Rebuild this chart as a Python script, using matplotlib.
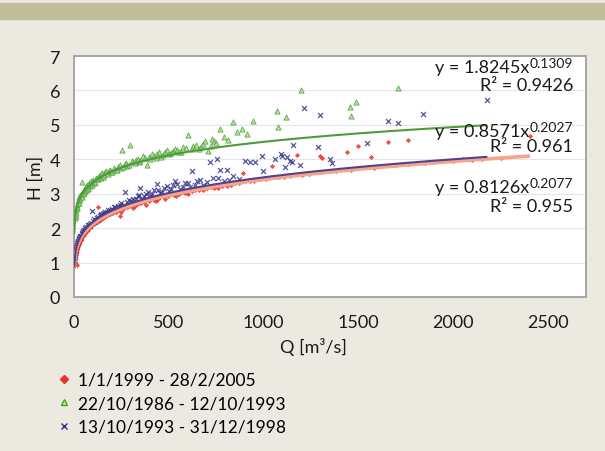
import matplotlib
matplotlib.use('Agg')
import matplotlib.pyplot as plt
from matplotlib.lines import Line2D
from matplotlib.patches import Rectangle
import numpy as np

plt.rcParams['font.family'] = ['Lato', 'DejaVu Sans']

W, H = 605, 452

# 22/10/1986 - 12/10/1993 (green triangles)
q_green = [5, 8, 10, 12, 14, 15, 18, 20, 22, 25, 27, 28, 32, 33, 35, 38, 40, 42, 45, 46, 48,
           52, 55, 58, 60, 63, 65, 70, 72, 75, 78, 80, 85, 88, 90, 95, 98, 100, 105, 110, 115,
           120, 125, 130, 135, 140, 145, 150, 155, 160, 165, 170, 180, 185, 190, 195, 200,
           210, 215, 225, 232, 240, 248, 253, 260, 268, 275, 282, 290, 295, 305, 312, 320,
           328, 335, 342, 350, 365, 372, 385, 395, 402, 410, 420, 430, 440, 450, 460, 470,
           480, 490, 500, 510, 520, 530, 545, 555, 565, 575, 590, 601, 620, 630, 645, 660,
           670, 680, 690, 707, 720, 730, 740, 750, 770, 790, 810, 839, 860, 886, 910, 944,
           1071, 1076, 1118, 1197, 1456, 1462, 1487, 1709]
h_green = [2.30, 2.35, 2.45, 2.52, 2.58, 2.68, 2.62, 2.74, 2.80, 2.72, 2.82, 2.90, 2.84, 2.94,
           2.98, 2.92, 2.90, 3.34, 3.05, 3.06, 2.98, 3.10, 3.02, 3.08, 3.18, 3.20, 3.10, 3.24,
           3.14, 3.16, 3.26, 3.30, 3.22, 3.28, 3.36, 3.26, 3.34, 3.40, 3.30, 3.34, 3.46, 3.44,
           3.42, 3.52, 3.50, 3.47, 3.56, 3.60, 3.50, 3.54, 3.62, 3.66, 3.58, 3.66, 3.70, 3.62,
           3.64, 3.76, 3.70, 3.70, 3.78, 3.82, 3.74, 4.27, 3.78, 3.86, 3.90, 3.80, 3.84, 4.42,
           3.95, 3.92, 3.88, 3.98, 4.02, 3.92, 3.96, 4.10, 4.04, 3.84, 4.06, 4.00, 4.14, 4.10,
           4.05, 4.14, 4.20, 4.08, 4.12, 4.22, 4.26, 4.16, 4.18, 4.24, 4.30, 4.28, 4.22, 4.20,
           4.36, 4.32, 4.71, 4.30, 4.38, 4.42, 4.30, 4.35, 4.44, 4.52, 4.24, 4.40, 4.60, 4.52,
           4.48, 4.88, 4.66, 4.55, 5.09, 4.78, 4.88, 4.72, 5.12, 5.41, 4.94, 5.23, 6.02, 5.52,
           5.26, 5.67, 6.08]

# 13/10/1993 - 31/12/1998 (blue crosses)
q_blue = [3, 4, 5, 6, 7, 8, 10, 11, 12, 14, 15, 17, 18, 20, 22, 23, 25, 27, 28, 30, 32, 35,
          38, 40, 42, 45, 48, 50, 53, 55, 58, 60, 64, 68, 72, 75, 78, 82, 86, 90, 95, 100,
          105, 110, 115, 120, 125, 130, 135, 140, 145, 150, 155, 160, 165, 170, 175, 180,
          188, 195, 202, 210, 218, 225, 232, 240, 248, 255, 262, 269, 280, 290, 300, 310,
          320, 328, 335, 342, 348, 360, 370, 380, 390, 400, 410, 420, 437, 445, 455, 465,
          475, 490, 500, 510, 520, 533, 545, 560, 575, 585, 600, 610, 622, 640, 650, 665,
          680, 700, 717, 735, 754, 760, 770, 790, 807, 820, 840, 870, 902, 928, 955, 992,
          997, 1060, 1090, 1097, 1113, 1123, 1139, 1150, 1155, 1192, 1213, 1287, 1297, 1350,
          1361, 1545, 1656, 1709, 1841, 2178]
h_blue = [1.05, 1.15, 1.22, 1.28, 1.30, 1.34, 1.40, 1.44, 1.36, 1.46, 1.52, 1.56, 1.50, 1.60,
          1.62, 1.58, 1.68, 1.70, 1.66, 1.74, 1.76, 1.72, 1.78, 1.84, 1.86, 1.82, 1.88, 1.92,
          1.95, 1.90, 1.94, 2.00, 2.02, 1.98, 2.04, 2.10, 2.08, 2.06, 2.12, 2.16, 2.50, 2.22,
          2.26, 2.18, 2.24, 2.30, 2.32, 2.27, 2.34, 2.38, 2.40, 2.34, 2.42, 2.44, 2.46, 2.40,
          2.48, 2.52, 2.54, 2.48, 2.56, 2.60, 2.62, 2.56, 2.64, 2.68, 2.72, 2.62, 2.68, 3.05,
          2.75, 2.82, 2.80, 2.86, 2.74, 2.84, 2.92, 2.96, 3.17, 2.86, 2.92, 3.00, 3.04, 2.94,
          2.98, 3.10, 3.28, 3.12, 3.02, 3.06, 3.18, 3.22, 3.08, 3.14, 3.25, 3.37, 3.28, 3.14,
          3.20, 3.30, 3.32, 3.20, 3.66, 3.26, 3.36, 3.40, 3.26, 3.34, 3.92, 3.45, 4.01, 3.46,
          3.69, 3.38, 3.69, 3.40, 3.52, 3.44, 3.95, 3.92, 3.92, 4.10, 3.66, 4.01, 4.15, 4.10,
          3.78, 4.07, 3.95, 3.92, 4.42, 3.84, 5.49, 4.36, 5.29, 4.01, 3.90, 4.48, 5.12, 5.06,
          5.32, 5.73]

# 1/1/1999 - 28/2/2005 (red diamonds)
q_red = [3, 4, 6, 8, 10, 12, 14, 15, 16, 18, 20, 22, 24, 26, 28, 30, 33, 36, 38, 42, 45, 48,
         52, 56, 60, 65, 70, 75, 80, 85, 90, 95, 105, 110, 115, 122, 127, 130, 138, 145, 152,
         160, 168, 175, 182, 190, 200, 210, 220, 230, 240, 250, 260, 270, 280, 290, 300, 310,
         320, 330, 345, 355, 370, 380, 395, 405, 420, 430, 445, 455, 470, 480, 495, 510, 525,
         540, 555, 570, 585, 600, 620, 640, 660, 680, 700, 720, 740, 760, 780, 807, 830, 850,
         870, 891, 930, 950, 980, 1010, 1044, 1080, 1110, 1140, 1176, 1200, 1240, 1297, 1300,
         1308, 1380, 1440, 1460, 1498, 1566, 1580, 1620, 1656, 1700, 1760, 1762, 1850, 1900,
         1950, 2000, 2050, 2100, 2150, 2250, 2405]
h_red = [1.02, 1.10, 1.18, 1.22, 1.28, 1.34, 1.38, 0.93, 1.40, 1.45, 1.48, 1.52, 1.55, 1.56,
         1.60, 1.63, 1.66, 1.68, 1.70, 1.74, 1.79, 1.80, 1.82, 1.86, 1.88, 1.90, 1.95, 1.98,
         2.00, 2.02, 2.06, 2.08, 2.12, 2.14, 2.18, 2.20, 2.62, 2.22, 2.25, 2.28, 2.30, 2.32,
         2.34, 2.38, 2.40, 2.42, 2.44, 2.46, 2.48, 2.52, 2.35, 2.48, 2.56, 2.60, 2.62, 2.64,
         2.66, 2.58, 2.64, 2.70, 2.72, 2.74, 2.76, 2.68, 2.80, 2.84, 2.82, 2.80, 2.86, 2.90,
         2.92, 2.86, 2.92, 2.98, 2.96, 2.94, 3.00, 3.04, 3.02, 3.00, 3.08, 3.12, 3.10, 3.10,
         3.16, 3.20, 3.18, 3.16, 3.22, 3.23, 3.26, 3.30, 3.30, 3.60, 3.36, 3.38, 3.42, 3.42,
         3.81, 3.48, 3.48, 3.52, 4.13, 3.54, 3.58, 4.10, 3.62, 4.04, 3.66, 4.22, 3.70, 4.39,
         4.07, 3.76, 3.80, 4.51, 3.84, 3.86, 4.56, 3.90, 3.92, 3.96, 3.94, 4.00, 3.98, 4.02,
         4.04, 4.68]

# power trendlines shown on the chart: (a, b, R², last Q)
fit_green = (1.8245, 0.1309, '0.9426', 2180)
fit_blue = (0.8571, 0.2027, '0.961', 2180)
fit_red = (0.8126, 0.2077, '0.955', 2405)

labels = ['1/1/1999 - 28/2/2005', '22/10/1986 - 12/10/1993', '13/10/1993 - 31/12/1998']
x_ticks = [0, 500, 1000, 1500, 2000, 2500]
y_ticks = [0, 1, 2, 3, 4, 5, 6, 7]

BG = '#ECE9E1'
fig = plt.figure(figsize=(W / 100, H / 100), dpi=100)
fig.patch.set_facecolor(BG)
fig.patches.append(Rectangle((0, 1 - 20 / H), 1, 16 / H, transform=fig.transFigure,
                             color='#C3BE9A', zorder=0))

def fx(px):
    return px / W

def fy(py):
    return 1 - py / H

ax = fig.add_axes([fx(74), fy(298), fx(586) - fx(74), fy(57) - fy(298)])
ax.set_facecolor('white')

ax.scatter(q_green, h_green, marker='^', s=14, facecolor='#A9DC7E', edgecolor='#3E9B35',
           linewidth=0.6, alpha=0.8, zorder=3)
ax.scatter(q_blue, h_blue, marker='x', s=13, color='#2E2F86', linewidth=0.9, alpha=0.8, zorder=3)
ax.scatter(q_red, h_red, marker='D', s=7, color='#E8322A', linewidth=0, alpha=0.85, zorder=4)

for (a, b, r2, qmax), col, lw in [(fit_red, '#F4A68C', 2.6), (fit_blue, '#55408E', 1.5),
                                  (fit_green, '#4E9A3E', 1.5)]:
    qq = np.linspace(1, qmax, 400)
    ax.plot(qq, a * qq ** b, color=col, lw=lw, zorder=5, solid_capstyle='butt')

ax.set_xlim(0, 2700)
ax.set_ylim(0, 7)
ax.set_xticks(x_ticks)
ax.set_yticks(y_ticks)
ax.yaxis.grid(True, color='#E6E6E6', lw=0.8)
ax.set_axisbelow(True)
for s in ax.spines.values():
    s.set_color('#A6A6A6')
    s.set_linewidth(1.4)
ax.tick_params(length=0, labelsize=13, colors='#1A1A1A')
ax.tick_params(axis='x', pad=12)
ax.tick_params(axis='y', pad=10)

fig.text(fx(36), fy(178), 'H [m]', rotation=90, ha='center', va='center', fontsize=13,
         color='#1A1A1A')
fig.text(fx(313), fy(347), 'Q [m³/s]', ha='center', va='center', fontsize=13, color='#1A1A1A')

# trendline equations: base text + raised exponent, right aligned
renderer = fig.canvas.get_renderer()
eqs = [(fit_green, 68, 86), (fit_blue, 132, 147), (fit_red, 188, 207)]
for (a, b, r2, qmax), y1, y2 in eqs:
    sup = fig.text(fx(573), fy(y1 - 4), '%.4f' % b, ha='right', va='center', fontsize=10,
                   color='#1A1A1A')
    wsup = sup.get_window_extent(renderer).width
    fig.text(fx(573 - wsup), fy(y1), 'y = %.4fx' % a, ha='right', va='center',
             fontsize=13, color='#1A1A1A')
    fig.text(fx(573), fy(y2), 'R² = %s' % r2, ha='right', va='center', fontsize=13,
             color='#1A1A1A')

handles = [
    Line2D([], [], ls='none', marker='D', ms=4, color='#E8322A', mec='#E8322A'),
    Line2D([], [], ls='none', marker='^', ms=5, mfc='#E6E23A', mec='#3E9B35', mew=0.9),
    Line2D([], [], ls='none', marker='x', ms=5, color='#2E2F86', mew=1.0),
]
fig.legend(handles, labels, loc='upper left', bbox_to_anchor=(fx(57), fy(373)),
           frameon=False, fontsize=12.5, handlelength=0.8, handletextpad=0.4,
           labelspacing=0.42, borderpad=0, borderaxespad=0)

fig.savefig('out.png', dpi=100, facecolor=fig.get_facecolor())
